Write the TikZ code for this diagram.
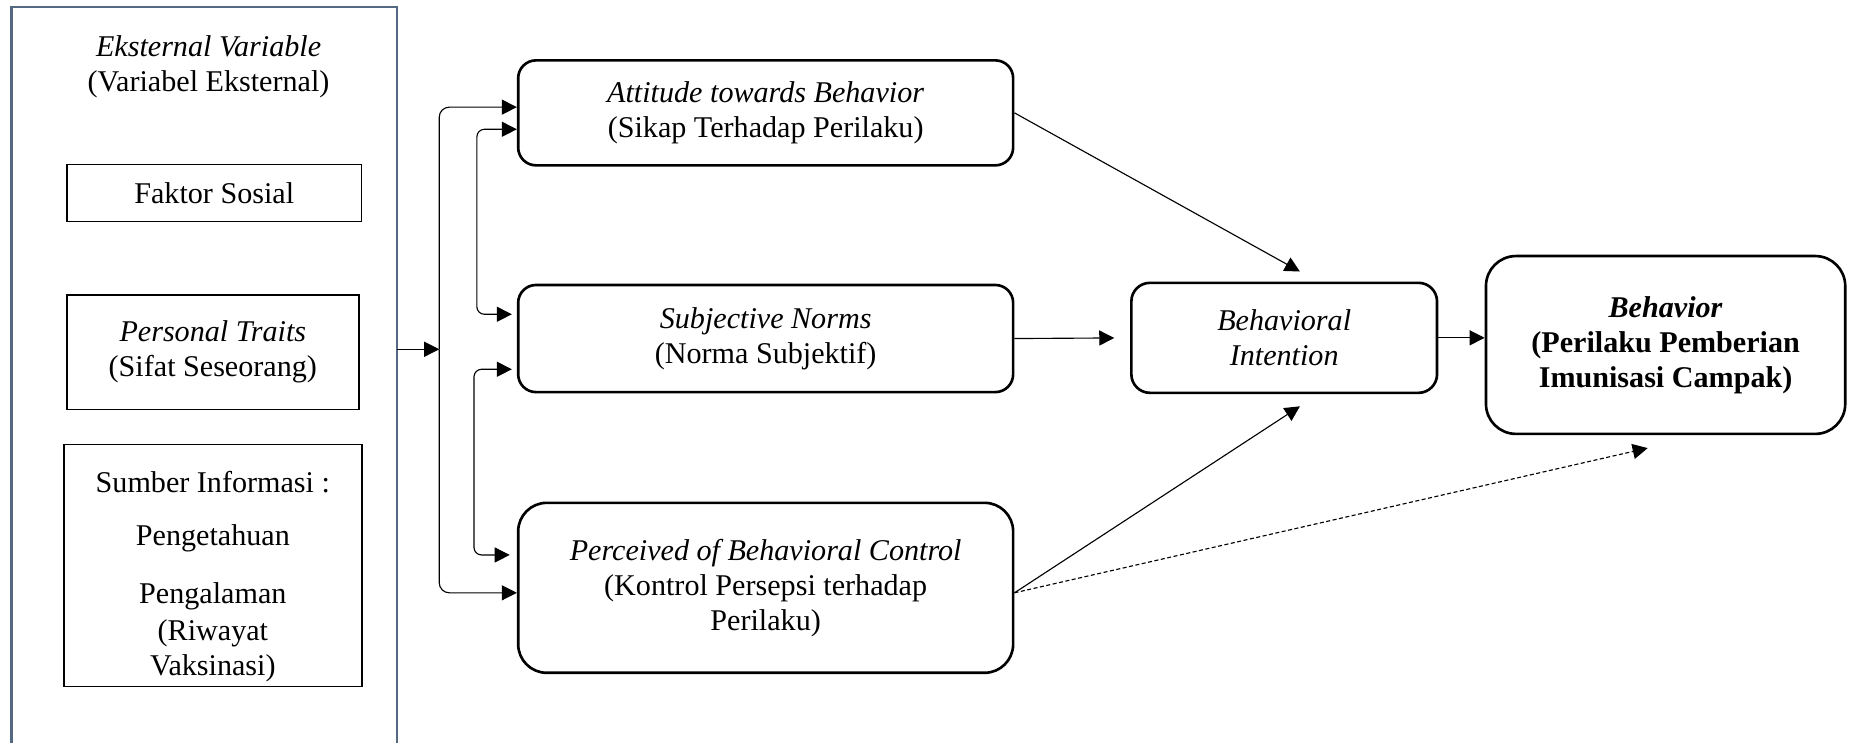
\documentclass[tikz,border=0pt]{standalone}
\usepackage{fontspec}
\setmainfont{Liberation Serif}
\usetikzlibrary{arrows.meta}
\definecolor{frameblue}{RGB}{84,104,130}
\tikzset{
  wire/.style={draw=black, line width=0.45pt},
  link/.style={wire, -{Triangle[length=6pt,width=6pt]}},
  twoway/.style={wire, {Triangle[length=6pt,width=6pt]}-{Triangle[length=6pt,width=6pt]}},
  hint/.style={link, dash pattern=on 1.6pt off 1pt},
  factor/.style={
    draw=black,
    fill=white,
    line width=0.6pt,
    align=center,
    inner sep=0pt,
    font=\fontsize{12}{14}\selectfont
  },
  stage/.style={
    draw=black,
    fill=white,
    line width=1.05pt,
    align=center,
    inner sep=2pt,
    font=\fontsize{12}{14}\selectfont
  },
  plainlabel/.style={align=center, font=\fontsize{12}{14}\selectfont}
}
\begin{document}
\begin{tikzpicture}
  \useasboundingbox (0,0) rectangle (25.93,-10.39);

  % External variables panel (open at the bottom).
  \draw[frameblue, line width=1pt] (0.16,-10.6) |- (5.56,-0.10) -- (5.56,-10.6);
  \node[plainlabel] (exttitle) at (2.92,-0.94) {\textit{Eksternal Variable}\\(Variabel Eksternal)};

  \node[factor, minimum width=4.12cm, minimum height=0.80cm] (sosial) at (3.00,-2.70) {Faktor Sosial};
  \node[factor, minimum width=4.09cm, minimum height=1.60cm] (traits) at (2.98,-4.93) {\textit{Personal Traits}\\(Sifat Seseorang)};
  \node[factor, minimum width=4.17cm, minimum height=3.39cm] (sumber) at (2.98,-7.92) {};
  \node[plainlabel] (sumbertext) at (2.98,-8.07) {Sumber Informasi :\\[0.25cm]Pengetahuan\\[0.32cm]Pengalaman\\[0.03cm](Riwayat\\Vaksinasi)};

  % Belief constructs.
  \node[stage, rounded corners=0.25cm, minimum width=6.93cm, minimum height=1.47cm] (att) at (10.72,-1.58) {\textit{Attitude towards Behavior}\\(Sikap Terhadap Perilaku)};
  \node[stage, rounded corners=0.25cm, minimum width=6.93cm, minimum height=1.50cm] (sn) at (10.72,-4.74) {\textit{Subjective Norms}\\(Norma Subjektif)};
  \node[stage, rounded corners=0.40cm, minimum width=6.93cm, minimum height=2.38cm] (pbc) at (10.72,-8.23) {\textit{Perceived of Behavioral Control}\\(Kontrol Persepsi terhadap\\Perilaku)};

  \node[stage, rounded corners=0.26cm, minimum width=4.28cm, minimum height=1.54cm] (bi) at (17.98,-4.73) {\textit{Behavioral}\\\textit{Intention}};
  \node[stage, rounded corners=0.42cm, minimum width=5.03cm, minimum height=2.49cm] (beh) at (23.32,-4.83) {\textbf{\textit{Behavior}}\\\textbf{(Perilaku Pemberian}\\\textbf{Imunisasi Campak)}};

  % Bus from the panel to the three constructs.
  \coordinate (ext) at (5.56,-4.89);
  \coordinate (bus) at (6.15,-4.89);
  \draw[link] (ext) -- (bus);
  \draw[link, rounded corners=4pt] (bus) |- ([yshift=0.08cm]att.west);
  \draw[link, rounded corners=4pt] (bus) |- ([yshift=-0.07cm]pbc.west);

  \draw[twoway, rounded corners=3pt, shorten >=0.07cm] ([yshift=-0.23cm]att.west) -- ++(-0.56,0) |- ([yshift=0.34cm]sn.west);
  \draw[twoway, rounded corners=3pt, shorten <=0.07cm, shorten >=0.10cm] ([yshift=-0.43cm]sn.west) -- ++(-0.60,0) |- ([yshift=0.46cm]pbc.west);

  % Paths to intention and behavior.
  \draw[link] (att.east) -- ([xshift=0.22cm, yshift=0.14cm]bi.north);
  \draw[link, shorten >=0.22cm] (sn.east) -- (bi.west);
  \draw[link] ([yshift=-0.07cm]pbc.east) -- ([xshift=0.22cm, yshift=-0.17cm]bi.south);
  \draw[hint] ([yshift=-0.07cm]pbc.east) -- ([xshift=-0.25cm, yshift=-0.18cm]beh.south);
  \draw[link] (bi.east) -- (bi.east -| beh.west);
\end{tikzpicture}
\end{document}
